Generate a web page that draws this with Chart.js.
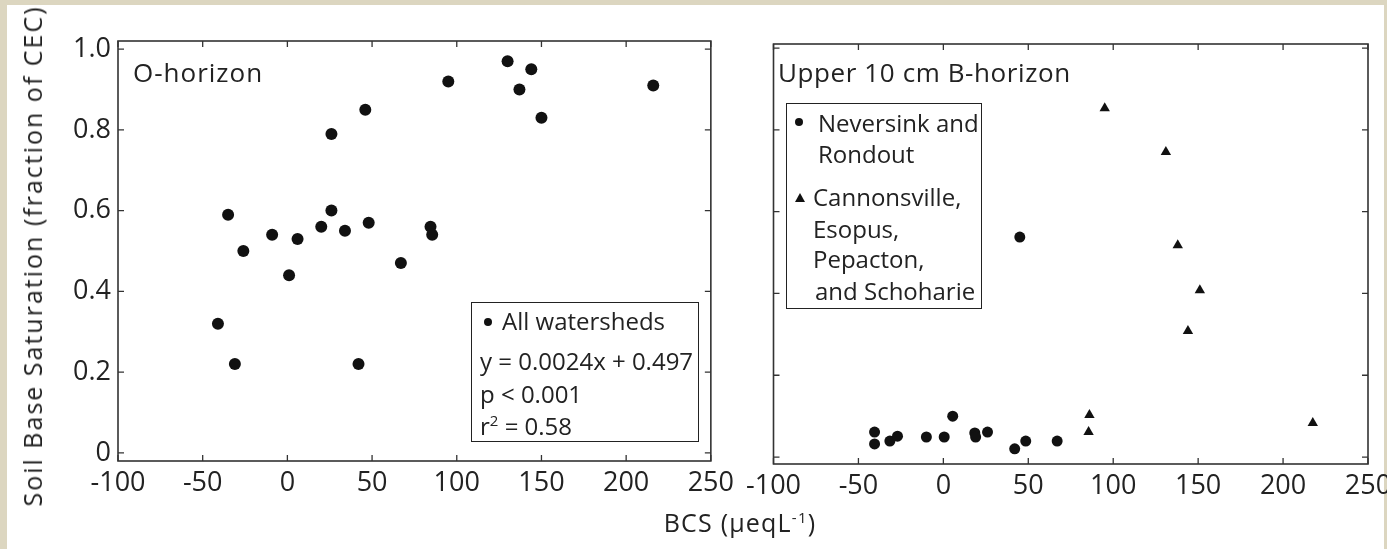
<!DOCTYPE html>
<html>
<head>
  <title>BCS vs soil base saturation</title>
  <script src="https://cdn.jsdelivr.net/npm/chart.js"></script>
  <style>
    html, body { margin: 0; padding: 0; }
    body { width: 1387px; height: 549px; overflow: hidden; background: #dcd6c0; position: relative;
           font-family: 'Open Sans', sans-serif; color: #222; }
    #paper { position: absolute; left: 7px; top: 5px; width: 1377px; height: 560px; background: #fff; }
    .box { position: absolute; }
    .txt { position: absolute; font-size: 24px; line-height: 24px; white-space: nowrap; }
    .lbox { position: absolute; border: 1.5px solid #222; box-sizing: border-box; }
    .dot { position: absolute; width: 8px; height: 8px; border-radius: 50%; background: #111; }
    .tri { position: absolute; width: 0; height: 0; border-left: 5px solid transparent;
           border-right: 5px solid transparent; border-bottom: 9px solid #111; }
    sup { font-size: 15px; line-height: 0; vertical-align: 9px; }
  </style>
</head>
<body>
  <div id="paper"></div>
  <div class="box" style="left:0;top:0;width:740px;height:549px"><canvas id="left"></canvas></div>
  <div class="box" style="left:740px;top:0;width:660px;height:549px"><canvas id="right"></canvas></div>

  <div class="txt" style="left:133px;top:59px;font-size:26px;line-height:26px;letter-spacing:1px">O-horizon</div>
  <div class="txt" style="left:778px;top:59px;font-size:26px;line-height:26px;letter-spacing:0.6px">Upper 10 cm B-horizon</div>

  <div class="lbox" style="left:471px;top:302px;width:228px;height:140px"></div>
  <div class="dot" style="left:484px;top:318px"></div>
  <div class="txt" style="left:502px;top:309px">All watersheds</div>
  <div class="txt" style="left:480px;top:349px">y = 0.0024x + 0.497</div>
  <div class="txt" style="left:480px;top:382px">p &lt; 0.001</div>
  <div class="txt" style="left:480px;top:414px">r<sup>2</sup> = 0.58</div>

  <div class="lbox" style="left:786px;top:103px;width:196px;height:206px"></div>
  <div class="dot" style="left:795px;top:118px"></div>
  <div class="txt" style="left:818px;top:111px">Neversink and</div>
  <div class="txt" style="left:818px;top:142px">Rondout</div>
  <div class="tri" style="left:795px;top:193px"></div>
  <div class="txt" style="left:813px;top:185px">Cannonsville,</div>
  <div class="txt" style="left:813px;top:217px">Esopus,</div>
  <div class="txt" style="left:813px;top:247px">Pepacton,</div>
  <div class="txt" style="left:815px;top:279px">and Schoharie</div>

  <div class="txt" style="left:32px;top:256px;font-size:25px;letter-spacing:2px;transform:translate(-50%,-50%) rotate(-90deg)">Soil Base Saturation (fraction of CEC)</div>
  <div class="txt" style="left:540px;top:510px;width:400px;text-align:center;font-size:25px;line-height:25px;letter-spacing:1.2px">BCS (&mu;eqL<sup>-1</sup>)</div>

  <script>
    // tick values
    const xTicks = [-100, -50, 0, 50, 100, 150, 200, 250];
    const yTicks = [0, 0.2, 0.4, 0.6, 0.8, 1.0];

    // O-horizon, all watersheds
    const oX = [-35, -26, -9, 6, 1, 20, 26, 26, 34, 46, 48, 67, 84.5, 85.5, 95, 130, 137, 144, 150, 216, -41, -31, 42];
    const oY = [0.59, 0.50, 0.54, 0.53, 0.44, 0.56, 0.60, 0.79, 0.55, 0.85, 0.57, 0.47, 0.56, 0.54, 0.92, 0.97, 0.90, 0.95, 0.83, 0.91, 0.32, 0.22, 0.22];

    // upper 10 cm B-horizon, Neversink and Rondout
    const nrX = [-40.5, -40.5, -31.5, -27, -10, 0.5, 5.5, 18.5, 19, 26, 42, 48.5, 67, 45];
    const nrY = [0.061, 0.032, 0.039, 0.051, 0.049, 0.049, 0.10, 0.059, 0.049, 0.061, 0.02, 0.039, 0.039, 0.538];

    // upper 10 cm B-horizon, Cannonsville, Esopus, Pepacton, Schoharie
    const ceX = [95, 131, 138, 151, 144, 86, 85.5, 217.5];
    const ceY = [0.853, 0.746, 0.518, 0.408, 0.308, 0.103, 0.061, 0.083];

    const pts = (xs, ys) => xs.map((x, i) => ({ x: x, y: ys[i] }));
    const tickFont = { family: "'Open Sans', sans-serif", size: 27 };

    // box around the plot plus inward tick marks on all four sides
    const frame = {
      id: 'frame',
      afterDraw(chart) {
        const ctx = chart.ctx, a = chart.chartArea;
        const xs = chart.scales.x, ys = chart.scales.y;
        ctx.save();
        ctx.strokeStyle = '#333';
        ctx.lineWidth = 1.6;
        ctx.strokeRect(a.left, a.top, a.right - a.left, a.bottom - a.top);
        ctx.lineWidth = 1.3;
        ctx.beginPath();
        xs.ticks.forEach(t => {
          const p = xs.getPixelForValue(t.value);
          ctx.moveTo(p, a.bottom); ctx.lineTo(p, a.bottom - 6);
          ctx.moveTo(p, a.top); ctx.lineTo(p, a.top + 6);
        });
        ys.ticks.forEach(t => {
          const p = ys.getPixelForValue(t.value);
          ctx.moveTo(a.left, p); ctx.lineTo(a.left + 6, p);
          ctx.moveTo(a.right, p); ctx.lineTo(a.right - 6, p);
        });
        ctx.stroke();
        ctx.restore();
      }
    };

    function scales(yMin, yMax, yWidth, xHeight, showY) {
      return {
        x: {
          type: 'linear', min: -100, max: 250,
          afterBuildTicks: s => { s.ticks = xTicks.map(v => ({ value: v })); },
          afterFit: s => { s.height = xHeight; },
          grid: { display: false, drawTicks: false },
          border: { display: false },
          ticks: { font: tickFont, color: '#222', padding: 6, maxRotation: 0 }
        },
        y: {
          type: 'linear', min: yMin, max: yMax,
          afterBuildTicks: s => { s.ticks = yTicks.map(v => ({ value: v })); },
          afterFit: s => { s.width = yWidth; },
          grid: { display: false, drawTicks: false },
          border: { display: false },
          ticks: {
            display: showY, font: tickFont, color: '#222', padding: 7,
            callback: v => v === 0 ? '0' : v.toFixed(1)
          }
        }
      };
    }

    new Chart(document.getElementById('left'), {
      type: 'scatter',
      data: {
        datasets: [{
          label: 'All watersheds', data: pts(oX, oY),
          pointStyle: 'circle', pointRadius: 6, pointBackgroundColor: '#111', pointBorderWidth: 0
        }]
      },
      options: {
        responsive: true, maintainAspectRatio: false, animation: false,
        layout: { padding: { left: 0, top: 41, right: 23, bottom: 0 } },
        plugins: { legend: { display: false }, tooltip: { enabled: false } },
        scales: scales(-0.02, 1.02, 118, 88, true)
      },
      plugins: [frame]
    });

    new Chart(document.getElementById('right'), {
      type: 'scatter',
      data: {
        datasets: [{
          label: 'Neversink and Rondout', data: pts(nrX, nrY),
          pointStyle: 'circle', pointRadius: 5.5, pointBackgroundColor: '#111', pointBorderWidth: 0
        }, {
          label: 'Cannonsville, Esopus, Pepacton, and Schoharie', data: pts(ceX, ceY),
          pointStyle: 'triangle', pointRadius: 6, pointBackgroundColor: '#111', pointBorderWidth: 0
        }]
      },
      options: {
        responsive: true, maintainAspectRatio: false, animation: false,
        layout: { padding: { left: 0, top: 44, right: 32, bottom: 0 } },
        plugins: { legend: { display: false }, tooltip: { enabled: false } },
        scales: scales(-0.017, 1.01, 29, 85, false)
      },
      plugins: [frame]
    });
  </script>
</body>
</html>
